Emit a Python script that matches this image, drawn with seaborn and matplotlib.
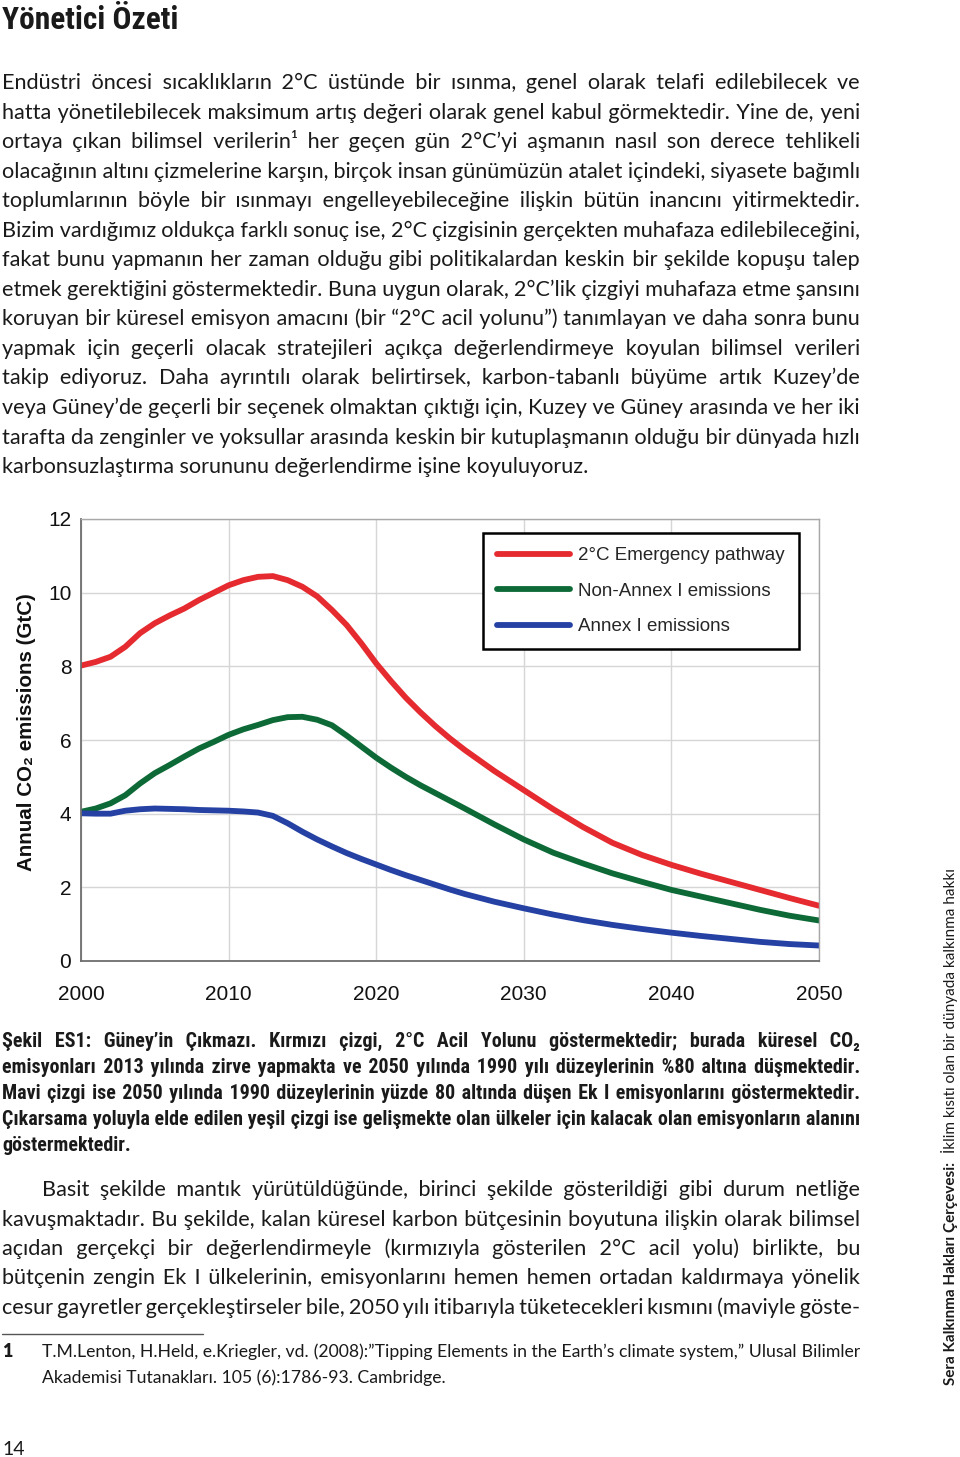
import matplotlib
matplotlib.use("Agg")
import pandas as pd
import seaborn as sns
import matplotlib.pyplot as plt
from matplotlib.transforms import IdentityTransform
from matplotlib import font_manager as fm

# %% data
years = list(range(2000, 2027)) + list(range(2028, 2051, 2))
emergency = [8.02, 8.12, 8.26, 8.53, 8.90, 9.17, 9.38, 9.57, 9.80, 10.00,
             10.20, 10.34, 10.43, 10.45, 10.34, 10.16, 9.90, 9.53, 9.12, 8.62,
             8.08, 7.60, 7.15, 6.75, 6.38, 6.04, 5.73,
             5.16, 4.64, 4.12, 3.64, 3.21, 2.88, 2.61, 2.37, 2.15, 1.93, 1.71, 1.50]
non_annex = [4.05, 4.14, 4.28, 4.50, 4.82, 5.10, 5.32, 5.55, 5.77, 5.95,
             6.14, 6.29, 6.41, 6.54, 6.62, 6.63, 6.55, 6.40, 6.12, 5.82,
             5.52, 5.25, 5.00, 4.77, 4.56, 4.35, 4.14,
             3.71, 3.30, 2.94, 2.65, 2.38, 2.15, 1.93, 1.75, 1.57, 1.39, 1.23, 1.10]
annex = [4.01, 4.00, 4.00, 4.08, 4.12, 4.14, 4.13, 4.12, 4.10, 4.09,
         4.08, 4.06, 4.03, 3.94, 3.74, 3.51, 3.30, 3.11, 2.93, 2.77,
         2.62, 2.47, 2.33, 2.20, 2.07, 1.94, 1.82,
         1.61, 1.43, 1.26, 1.11, 0.98, 0.87, 0.77, 0.68, 0.60, 0.52, 0.46, 0.42]
series_names = ["2°C Emergency pathway", "Non-Annex I emissions", "Annex I emissions"]
series_colors = ["#e52b2f", "#0d6a37", "#2441a3"]
x_ticks = [2000, 2010, 2020, 2030, 2040, 2050]
y_ticks = [0, 2, 4, 6, 8, 10, 12]

title = "Yönetici Özeti"
para1 = [
    "Endüstri öncesi sıcaklıkların 2°C üstünde bir ısınma, genel olarak telafi edilebilecek ve",
    "hatta yönetilebilecek maksimum artış değeri olarak genel kabul görmektedir. Yine de, yeni",
    "ortaya çıkan bilimsel verilerin¹ her geçen gün 2°C’yi aşmanın nasıl son derece tehlikeli",
    "olacağının altını çizmelerine karşın, birçok insan günümüzün atalet içindeki, siyasete bağımlı",
    "toplumlarının böyle bir ısınmayı engelleyebileceğine ilişkin bütün inancını yitirmektedir.",
    "Bizim vardığımız oldukça farklı sonuç ise, 2°C çizgisinin gerçekten muhafaza edilebileceğini,",
    "fakat bunu yapmanın her zaman olduğu gibi politikalardan keskin bir şekilde kopuşu talep",
    "etmek gerektiğini göstermektedir. Buna uygun olarak, 2°C’lik çizgiyi muhafaza etme şansını",
    "koruyan bir küresel emisyon amacını (bir “2°C acil yolunu”) tanımlayan ve daha sonra bunu",
    "yapmak için geçerli olacak stratejileri açıkça değerlendirmeye koyulan bilimsel verileri",
    "takip ediyoruz. Daha ayrıntılı olarak belirtirsek, karbon-tabanlı büyüme artık Kuzey’de",
    "veya Güney’de geçerli bir seçenek olmaktan çıktığı için, Kuzey ve Güney arasında ve her iki",
    "tarafta da zenginler ve yoksullar arasında keskin bir kutuplaşmanın olduğu bir dünyada hızlı",
    "karbonsuzlaştırma sorununu değerlendirme işine koyuluyoruz.",
]
caption = [
    "Şekil ES1: Güney’in Çıkmazı. Kırmızı çizgi, 2°C Acil Yolunu göstermektedir; burada küresel CO₂",
    "emisyonları 2013 yılında zirve yapmakta ve 2050 yılında 1990 yılı düzeylerinin %80 altına düşmektedir.",
    "Mavi çizgi ise 2050 yılında 1990 düzeylerinin yüzde 80 altında düşen Ek I emisyonlarını göstermektedir.",
    "Çıkarsama yoluyla elde edilen yeşil çizgi ise gelişmekte olan ülkeler için kalacak olan emisyonların alanını",
    "göstermektedir.",
]
para2 = [
    "Basit şekilde mantık yürütüldüğünde, birinci şekilde gösterildiği gibi durum netliğe",
    "kavuşmaktadır. Bu şekilde, kalan küresel karbon bütçesinin boyutuna ilişkin olarak bilimsel",
    "açıdan gerçekçi bir değerlendirmeyle (kırmızıyla gösterilen 2°C acil yolu) birlikte, bu",
    "bütçenin zengin Ek I ülkelerinin, emisyonlarını hemen hemen ortadan kaldırmaya yönelik",
    "cesur gayretler gerçekleştirseler bile, 2050 yılı itibarıyla tüketecekleri kısmını (maviyle göste-",
]
footnote = [
    "T.M.Lenton, H.Held, e.Kriegler, vd. (2008):”Tipping Elements in the Earth’s climate system,” Ulusal Bilimler",
    "Akademisi Tutanakları. 105 (6):1786-93. Cambridge.",
]
side_bold = "Sera Kalkınma Hakları Çerçevesi:"
side_normal = "İklim kısıtı olan bir dünyada kalkınma hakkı"
page_no = "14"

# %% fonts
installed = {f.name for f in fm.fontManager.ttflist}
def pick(*names):
    for n in names:
        if n in installed:
            return n
    return "DejaVu Sans"
body_font = pick("Lato", "Open Sans", "Noto Sans")
narrow_font = pick("Liberation Sans Narrow", "Roboto Condensed", "Liberation Sans")
chart_font = pick("Liberation Sans", "Arial")

sns.set_theme(style="whitegrid")
plt.rcParams["font.family"] = [chart_font, "DejaVu Sans"]

W, H = 960, 1457
fig = plt.figure(figsize=(W / 100, H / 100), dpi=100)
renderer = fig.canvas.get_renderer()
idt = IdentityTransform()

# %% chart
df = pd.DataFrame({"year": years * 3,
                   "value": emergency + non_annex + annex,
                   "series": [series_names[0]] * len(years) + [series_names[1]] * len(years)
                             + [series_names[2]] * len(years)})
ax = fig.add_axes([81 / W, 1 - 961 / H, 738 / W, 442 / H])
sns.lineplot(data=df, x="year", y="value", hue="series", palette=series_colors,
             linewidth=4.2, ax=ax)
ax.set_xlim(2000, 2050)
ax.set_ylim(0, 12)
ax.set_xticks(x_ticks)
ax.set_yticks(y_ticks)
ax.set_xlabel("")
ax.set_ylabel("")
ax.set_facecolor("white")
ax.grid(True, color="#d6d6d6", linewidth=1.0)
ax.tick_params(axis="both", length=0, labelsize=15, colors="#111111")
ax.tick_params(axis="y", pad=7)
ax.tick_params(axis="x", pad=17)
for side in ["left", "bottom"]:
    ax.spines[side].set_color("#6e6e6e")
    ax.spines[side].set_linewidth(1.3)
for side in ["top", "right"]:
    ax.spines[side].set_color("#a8a8a8")
    ax.spines[side].set_linewidth(1.0)

leg = ax.legend(loc="upper left", bbox_to_anchor=(0.545, 0.968), borderaxespad=0.,
                fontsize=13.5, frameon=True, fancybox=False, framealpha=1,
                edgecolor="black", handlelength=3.9, handletextpad=0.4,
                labelspacing=0.98, borderpad=0.75)
leg.get_frame().set_linewidth(1.8)
for line in leg.get_lines():
    line.set_linewidth(4.2)

fig.text(27 / W, 1 - 732 / H, "Annual CO₂ emissions (GtC)", rotation=90,
         ha="center", va="center", fontsize=14.8, fontweight="bold",
         family=[chart_font, "DejaVu Sans"], color="#111111")

# %% page text
def text_width(s, **kw):
    t = fig.text(0, 0, s, transform=idt, **kw)
    w = t.get_window_extent(renderer).width
    t.remove()
    return w

def fit_size(s, target, base=15, **kw):
    return base * target / text_width(s, fontsize=base, **kw)

HAIR, THIN, SIXTH = "\u200a", "\u2009", "\u2006"

def gap_options(**kw):
    # widths of the space characters, measured between two letters
    aa = text_width("aa", **kw)
    sw = {c: text_width("a" + c + "a", **kw) - aa for c in (" ", THIN, SIXTH, HAIR)}
    opts = []
    for base in (" ", THIN, SIXTH, ""):
        for k in range(0, 25):
            if base == "" and k == 0:
                continue
            opts.append((base + HAIR * k, (sw[base] if base else 0) + k * sw[HAIR]))
    return opts

def put_line(s, x0, base, x1=None, **kw):
    # one Text per line; justified lines get their word gaps padded with hair spaces
    words = s.split(" ")
    if x1 is None or len(words) == 1:
        fig.text(x0, H - base, s, transform=idt, ha="left", va="baseline", **kw)
        return
    opts = gap_options(**kw)
    ws = [text_width(w, **kw) for w in words]
    ideal = (x1 - x0 - sum(ws)) / (len(words) - 1)
    out = words[0]
    cur = x0 + ws[0]
    for i in range(1, len(words)):
        want = x0 + sum(ws[:i]) + i * ideal - cur
        g, gw = min(opts, key=lambda o: abs(o[1] - want))
        out += g + words[i]
        cur += gw + ws[i]
    fig.text(x0, H - base, out, transform=idt, ha="left", va="baseline", **kw)

ink = "#1a1a1a"

# title
tsize = fit_size(title, 176, family=narrow_font, fontweight="bold")
fig.text(2, H - 29, title, transform=idt, fontsize=tsize, fontweight="bold",
         family=narrow_font, color=ink, va="baseline")

# body paragraphs
body_kw = dict(family=[body_font, "DejaVu Sans"], color=ink)
bsize = fit_size(para1[-1], 588, **body_kw)
body_kw["fontsize"] = bsize
for i, s in enumerate(para1):
    put_line(s, 2, 89 + i * 29.55, None if i == len(para1) - 1 else 860, **body_kw)
for i, s in enumerate(para2):
    put_line(s, 42 if i == 0 else 2, 1196 + i * 29.5, 860, **body_kw)

# caption
cap_kw = dict(family=[narrow_font, "DejaVu Sans"], fontweight="bold", color=ink)
csize = min(fit_size(s, 850, **cap_kw) for s in caption[:4])
cap_kw["fontsize"] = csize
for i, s in enumerate(caption):
    put_line(s, 2, 1047 + i * 26, None if i == len(caption) - 1 else 860, **cap_kw)

# footnote
fig.add_artist(plt.Line2D([2, 203], [H - 1334, H - 1334], transform=idt,
                          color="#555555", linewidth=1.0))
foot_kw = dict(family=[body_font, "DejaVu Sans"], color=ink)
foot_kw["fontsize"] = fit_size(footnote[1], 404, **foot_kw)
fig.text(2, H - 1357, "1", transform=idt, va="baseline", fontweight="heavy", **foot_kw)
put_line(footnote[0], 42, 1357, 860, **foot_kw)
put_line(footnote[1], 42, 1383, None, **foot_kw)

# page number
fig.text(2, H - 1455, page_no, transform=idt, va="baseline", fontsize=14,
         family=body_font, color=ink)

# vertical running head
side_kw = dict(family=body_font, color=ink)
sb = fit_size(side_bold, 223, base=10, fontweight="bold", **side_kw)
sn = fit_size(side_normal, 285, base=10, **side_kw)
fig.text(955, H - 1385, side_bold, transform=idt, rotation=90, rotation_mode="anchor",
         ha="left", va="baseline", fontsize=sb, fontweight="bold", **side_kw)
fig.text(955, H - 1153, side_normal, transform=idt, rotation=90, rotation_mode="anchor",
         ha="left", va="baseline", fontsize=sn, **side_kw)

fig.savefig("out.png", dpi=100, facecolor="white")
